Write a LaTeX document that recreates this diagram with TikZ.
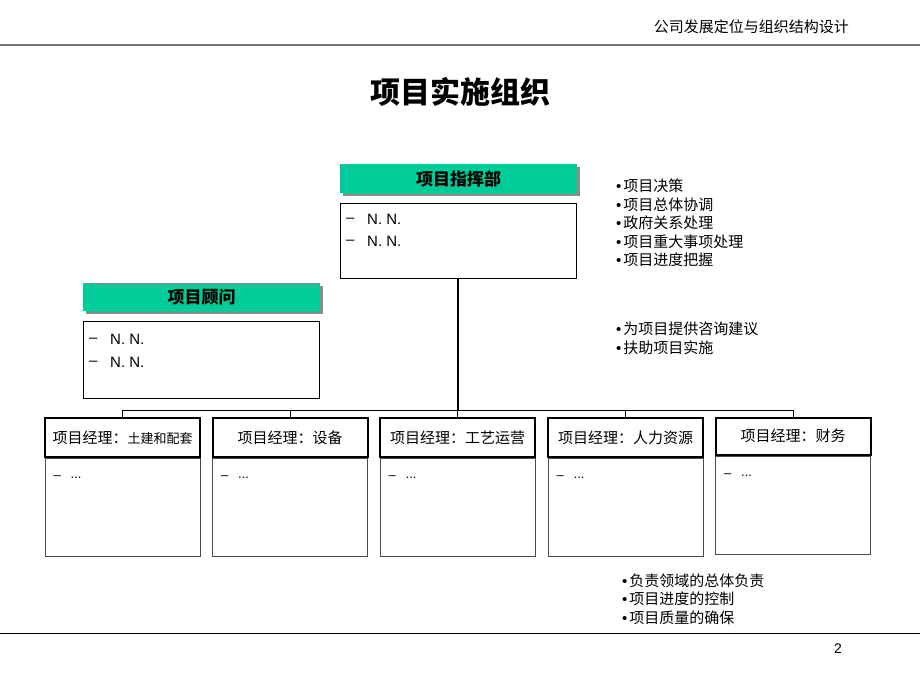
\documentclass[tikz,border=0pt]{standalone}
\usepackage{fontspec}
\setmainfont{Liberation Sans}
\newfontfamily\cjk{Noto Sans CJK SC}
\newcommand\bulmark{{\rmfamily •}\hspace{2pt}}
\usetikzlibrary{shadows}
\definecolor{bargreen}{RGB}{0,204,153}
\begin{document}
\begin{tikzpicture}[x=1pt,y=-1pt,
  bar/.style={fill=bargreen, minimum width=237pt, minimum height=29pt, inner sep=0pt,
    drop shadow={shadow xshift=3pt, shadow yshift=-3pt, fill=black!45, opacity=1},
    font=\cjk\bfseries\fontsize{17}{19}\selectfont},
  infobox/.style={draw, line width=1pt, minimum width=236pt, inner sep=0pt},
  mhead/.style={draw, line width=2pt, minimum width=155pt, minimum height=39pt, inner sep=0pt,
    font=\cjk\fontsize{15}{17}\selectfont},
  mbody/.style={draw=black!70, line width=1pt, minimum width=155pt, minimum height=98pt, inner sep=0pt},
  itemtxt/.style={anchor=west, inner sep=0pt, font=\fontsize{15}{17}\selectfont},
  bul/.style={anchor=west, inner sep=0pt, font=\cjk\fontsize{15}{18.5}\selectfont, align=left},
  conn/.style={line width=1pt}
]
\useasboundingbox (0,0) rectangle (920,690);
% header
\node[anchor=east, inner sep=0pt, font=\cjk\fontsize{15}{17}\selectfont] (hdr) at (849,27) {公司发展定位与组织结构设计};
\draw[line width=2pt, black!55] (0,45) -- (920,45);
\node[inner sep=0pt, font=\cjk\bfseries\fontsize{30}{33}\selectfont] (title) at (460,92) {项目实施组织};
% command
\node[bar] (cmdbar) at (458.5,178.5) {项目指挥部};
\node[infobox, minimum height=75pt] (cmdbox) at (458,240.5) {};
\node[itemtxt] (c1d) at (346,220) {–};
\node[itemtxt] (c1) at (367,219) {N. N.};
\node[itemtxt] (c2d) at (346,242) {–};
\node[itemtxt] (c2) at (367,241) {N. N.};
% adviser
\node[bar, minimum height=28pt] (advbar) at (201.5,297) {项目顾问};
\node[infobox, minimum height=77pt] (advbox) at (201,359.5) {};
\node[itemtxt] (a1d) at (89,340) {–};
\node[itemtxt] (a1) at (110,339) {N. N.};
\node[itemtxt] (a2d) at (89,363) {–};
\node[itemtxt] (a2) at (110,362) {N. N.};
% managers
\node[mhead] (m1) at (122.5,437.5) {项目经理：{\fontsize{13}{15}\selectfont 土建和配套}};
\node[mhead] (m2) at (290,437.5) {项目经理：设备};
\node[mhead] (m3) at (457.5,437.5) {项目经理：工艺运营};
\node[mhead] (m4) at (625.5,437.5) {项目经理：人力资源};
\node[mhead, minimum height=37pt] (m5) at (793,436) {项目经理：财务};
\foreach \i in {1,2,3,4,5}{
  \node[mbody, anchor=north] (b\i) at (m\i.south) {};
  \node[itemtxt, font=\fontsize{13}{15}\selectfont] (d\i) at ([xshift=9pt,yshift=-20pt]b\i.north west) {–};
  \node[itemtxt, font=\fontsize{13}{15}\selectfont] (e\i) at ([xshift=26pt,yshift=-20pt]b\i.north west) {...};
}
% connectors
\coordinate (bus) at (0,410);
\draw[line width=2pt] (cmdbox.south) -- (cmdbox.south |- bus);
\draw[conn] (m1.north |- bus) -- (m5.north |- bus);
\foreach \i in {1,2,3,4,5}{
  \draw[conn] (m\i.north |- bus) -- (m\i.north);
}
% bullet lists
\node[bul] (l1) at (616,223) {\bulmark 项目决策\\\bulmark 项目总体协调\\\bulmark 政府关系处理\\\bulmark 项目重大事项处理\\\bulmark 项目进度把握};
\node[bul] (l2) at (616,338.5) {\bulmark 为项目提供咨询建议\\\bulmark 扶助项目实施};
\node[bul] (l3) at (622,599) {\bulmark 负责领域的总体负责\\\bulmark 项目进度的控制\\\bulmark 项目质量的确保};
% footer
\draw[line width=1pt] (0,633) -- (920,633);
\node[inner sep=0pt, font=\fontsize{14}{16}\selectfont] (pg) at (838,649) {2};
\end{tikzpicture}
\end{document}
